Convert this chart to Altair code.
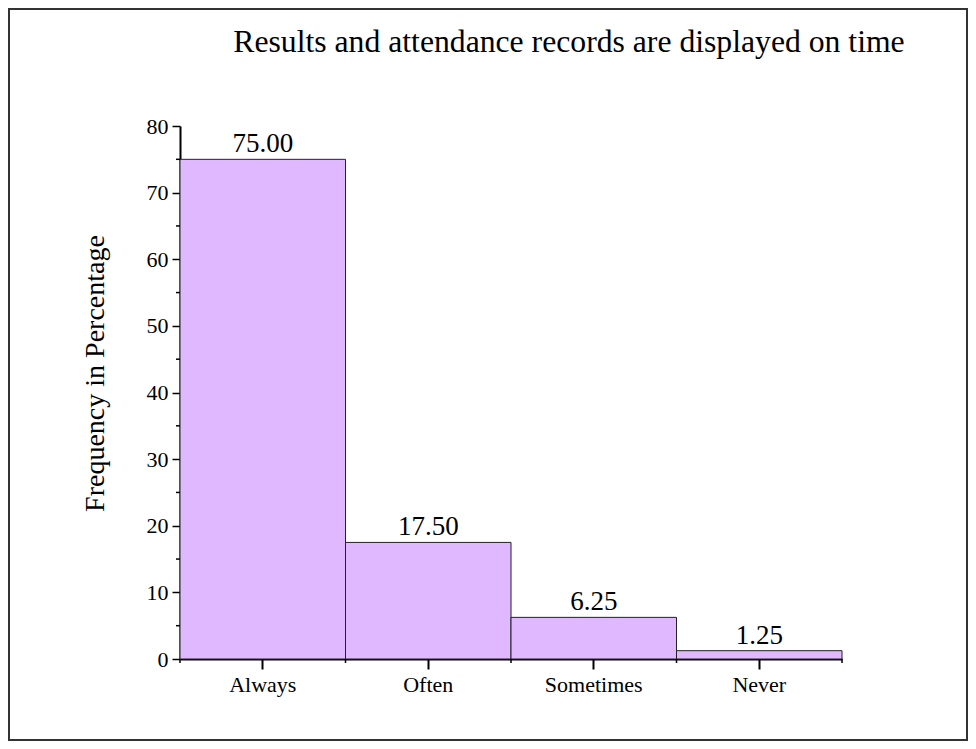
import altair as alt
import pandas as pd

title_text = "Results and attendance records are displayed on time"
categories = ["Always", "Often", "Sometimes", "Never"]
values = [75.00, 17.50, 6.25, 1.25]
labels = ["75.00", "17.50", "6.25", "1.25"]
major_ticks = [0, 10, 20, 30, 40, 50, 60, 70, 80]
minor_ticks = [5, 15, 25, 35, 45, 55, 65, 75]

df = pd.DataFrame({"cat": categories, "val": values, "lab": labels})
minor_df = pd.DataFrame({"v": minor_ticks})
last_df = pd.DataFrame({"cat": [categories[-1]]})
frame_df = pd.DataFrame({"k": [0]})
title_df = pd.DataFrame({"t": [title_text]})

FONT = "Liberation Serif"
W, H = 662, 533

xscale = alt.Scale(domain=categories, paddingInner=0, paddingOuter=0)
yscale = alt.Scale(domain=[0, 80], nice=False)

bars = alt.Chart(df).mark_bar(
    fill="#E0B8FF", stroke="#222222", strokeWidth=1
).encode(
    x=alt.X("cat:N", scale=xscale, sort=categories,
            axis=alt.Axis(title=None, labelAngle=0, labelFont=FONT, labelFontSize=22,
                          labelColor="black", tickSize=10, tickWidth=2, tickColor="black",
                          domainColor="black", domainWidth=2, labelPadding=5)),
    y=alt.Y("val:Q", scale=yscale,
            axis=alt.Axis(values=major_ticks, title="Frequency in Percentage",
                          titleFont=FONT, titleFontSize=28, titleFontWeight="normal",
                          titleColor="black", titleX=-85, titleY=247,
                          titleAngle=-90, titleBaseline="middle", titleAlign="center",
                          labelFont=FONT, labelFontSize=22, labelColor="black",
                          tickSize=8, tickWidth=1.5, tickColor="black",
                          domainColor="black", domainWidth=2, labelPadding=4,
                          grid=False)),
)

text = alt.Chart(df).mark_text(
    font=FONT, fontSize=27, baseline="bottom", dy=-1, color="black"
).encode(
    x=alt.X("cat:N", scale=xscale, sort=categories),
    y=alt.Y("val:Q", scale=yscale),
    text="lab:N",
)

bound_ticks = alt.Chart(df).mark_rule(color="black", strokeWidth=1.5).encode(
    x=alt.X("cat:N", scale=xscale, sort=categories, bandPosition=0),
    y=alt.value(H),
    y2=alt.value(H + 4),
)

last_tick = alt.Chart(last_df).mark_rule(color="black", strokeWidth=1.5).encode(
    x=alt.X("cat:N", scale=xscale, sort=categories, bandPosition=1),
    y=alt.value(H),
    y2=alt.value(H + 4),
)

minor = alt.Chart(minor_df).mark_rule(color="black", strokeWidth=1.5).encode(
    y=alt.Y("v:Q", scale=yscale),
    x=alt.value(-4),
    x2=alt.value(0),
)

frame = alt.Chart(frame_df).mark_rect(
    filled=False, stroke="#333333", strokeWidth=2
).encode(
    x=alt.value(-171), x2=alt.value(787), y=alt.value(-117), y2=alt.value(614)
)

title = alt.Chart(title_df).mark_text(
    font=FONT, fontSize=31.7, color="black", align="center", baseline="alphabetic"
).encode(
    x=alt.value(389), y=alt.value(-74), text="t:N"
)

chart = alt.layer(frame, bars, bound_ticks, last_tick, minor, text, title).properties(
    width=W, height=H,
    background="white",
    autosize=alt.AutoSizeParams(type="none"),
    padding={"left": 172, "top": 118, "right": 126, "bottom": 82},
).configure_view(strokeWidth=0)

chart.save("out.html", embed_options={"renderer": "svg", "actions": False})
